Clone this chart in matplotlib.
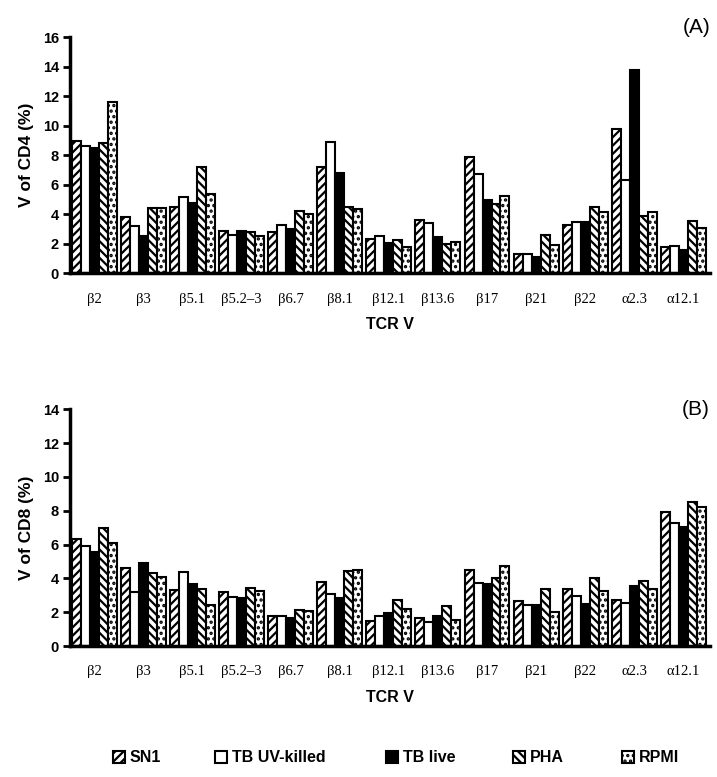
import matplotlib
matplotlib.use("Agg")
import matplotlib.pyplot as plt
import numpy as np

categories = ["β2", "β3", "β5.1", "β5.2–3", "β6.7", "β8.1", "β12.1",
              "β13.6", "β17", "β21", "β22", "α2.3", "α12.1"]
series_names = ["SN1", "TB UV-killed", "TB live", "PHA", "RPMI"]

# Panel A: CD4
cd4_sn1  = [9.0, 3.8, 4.5, 2.9, 2.8, 7.2, 2.3, 3.6, 7.9, 1.3, 3.3, 9.8, 1.8]
cd4_uv   = [8.6, 3.2, 5.2, 2.6, 3.3, 8.9, 2.5, 3.4, 6.7, 1.3, 3.5, 6.3, 1.85]
cd4_live = [8.5, 2.5, 4.8, 2.9, 3.0, 6.8, 2.05, 2.45, 5.0, 1.1, 3.5, 13.8, 1.6]
cd4_pha  = [8.8, 4.4, 7.2, 2.8, 4.2, 4.5, 2.25, 2.0, 4.7, 2.6, 4.5, 3.9, 3.55]
cd4_rpmi = [11.6, 4.4, 5.4, 2.5, 4.0, 4.35, 1.8, 2.15, 5.25, 1.95, 4.15, 4.15, 3.1]

# Panel B: CD8
cd8_sn1  = [6.35, 4.6, 3.3, 3.2, 1.75, 3.8, 1.45, 1.65, 4.5, 2.65, 3.4, 2.7, 7.95]
cd8_uv   = [5.9, 3.2, 4.4, 2.9, 1.8, 3.1, 1.8, 1.4, 3.7, 2.45, 2.95, 2.55, 7.3]
cd8_live = [5.55, 4.9, 3.65, 2.85, 1.65, 2.85, 1.98, 1.78, 3.65, 2.4, 2.5, 3.55, 7.05]
cd8_pha  = [7.0, 4.3, 3.4, 3.45, 2.15, 4.45, 2.7, 2.35, 4.0, 3.35, 4.05, 3.85, 8.5]
cd8_rpmi = [6.1, 4.1, 2.45, 3.25, 2.05, 4.5, 2.2, 1.55, 4.75, 2.0, 3.25, 3.35, 8.2]

yticks_a = [0, 2, 4, 6, 8, 10, 12, 14, 16]
yticks_b = [0, 2, 4, 6, 8, 10, 12, 14]

styles = [
    dict(facecolor="white", hatch="////"),
    dict(facecolor="white", hatch=None),
    dict(facecolor="black", hatch=None),
    dict(facecolor="white", hatch="\\\\\\\\"),
    dict(facecolor="white", hatch="..."),
]

plt.rcParams["hatch.linewidth"] = 1.6
plt.rcParams["font.family"] = ["Liberation Sans", "DejaVu Sans"]

W, H = 717, 777
fig = plt.figure(figsize=(W / 100, H / 100), dpi=100)


def ax_rect(left, right, top, bottom):
    return [left / W, 1 - bottom / H, (right - left) / W, (bottom - top) / H]


ax_a = fig.add_axes(ax_rect(70, 710, 37.3, 273.3))
ax_b = fig.add_axes(ax_rect(70, 710, 409.3, 646))

bw = 0.183
x = np.arange(len(categories))


def draw(ax, data, yticks, ylabel, tag, bars_out):
    for j, vals in enumerate(data):
        st = styles[j]
        b = ax.bar(x + (j - 2) * bw, vals, width=bw, facecolor=st["facecolor"],
                   edgecolor="black", linewidth=1.5, hatch=st["hatch"],
                   label=series_names[j], zorder=2)
        bars_out.append(b)
    ax.set_xlim(-0.49, 12.54)
    ax.set_ylim(yticks[0], yticks[-1])
    ax.set_yticks(yticks)
    ax.set_yticklabels([str(t) for t in yticks], fontsize=10.5, fontweight="bold")
    ax.set_xticks(x)
    ax.set_xticklabels(categories, fontsize=10.5, family=["Liberation Serif", "DejaVu Serif"])
    ax.tick_params(axis="x", length=0, pad=14)
    ax.tick_params(axis="y", length=5, width=2, direction="out", pad=3)
    for s in ["top", "right"]:
        ax.spines[s].set_visible(False)
    for s in ["left", "bottom"]:
        ax.spines[s].set_linewidth(2.5)
    ax.set_ylabel(ylabel, fontsize=12.5, fontweight="bold", labelpad=6)
    ax.set_xlabel("TCR V", fontsize=11.5, fontweight="bold", labelpad=8)
    ax.text(1.0, 1.0, tag, transform=ax.transAxes, fontsize=15,
            ha="right", va="bottom" if tag == "(A)" else "center")


bars = []
draw(ax_a, [cd4_sn1, cd4_uv, cd4_live, cd4_pha, cd4_rpmi], yticks_a, "V of CD4 (%)", "(A)", bars)
bars_b = []
draw(ax_b, [cd8_sn1, cd8_uv, cd8_live, cd8_pha, cd8_rpmi], yticks_b, "V of CD8 (%)", "(B)", bars_b)

legend_x = [113, 215, 386, 513, 622]
for j, lx in enumerate(legend_x):
    fig.legend([bars[j]], [series_names[j]], loc="center left",
               bbox_to_anchor=(lx / W, 1 - 758 / H), frameon=False,
               handlelength=0.75, handleheight=0.75, handletextpad=0.3,
               borderpad=0, borderaxespad=0,
               prop=dict(size=11.5, weight="bold"))

fig.savefig("out.png", dpi=100)
